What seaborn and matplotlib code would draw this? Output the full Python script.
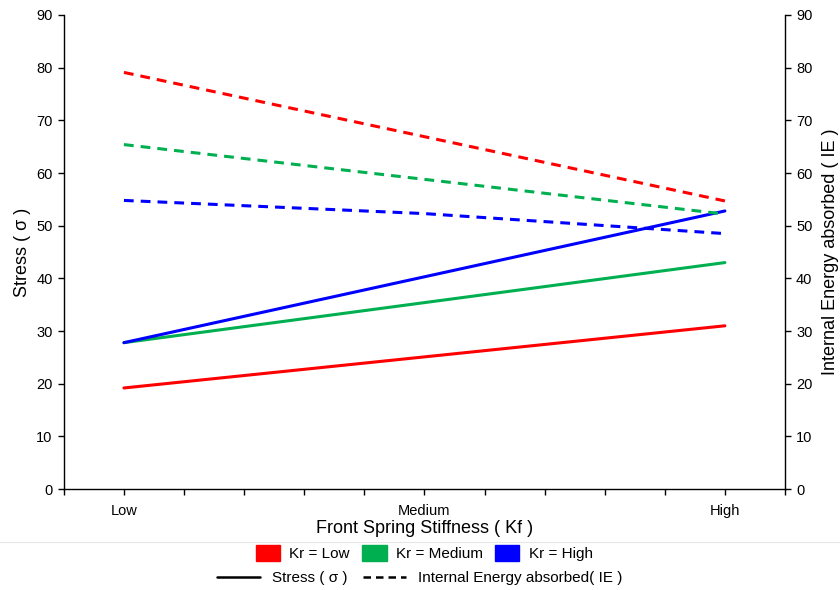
import matplotlib
matplotlib.use("Agg")
import matplotlib.pyplot as plt
import seaborn as sns
import pandas as pd
from matplotlib.patches import Patch
from matplotlib.lines import Line2D

# Data
kf_levels = ["Low", "Medium", "High"]
kr_levels = ["Kr = Low", "Kr = Medium", "Kr = High"]
stress_low = [19.2, 25.1, 31.0]
stress_med = [27.8, 35.4, 43.0]
stress_high = [27.8, 40.3, 52.8]
ie_low = [79.1, 66.9, 54.7]
ie_med = [65.4, 58.8, 52.2]
ie_high = [54.8, 52.3, 48.5]
colors = ["#FF0000", "#00B050", "#0000FF"]

xpos = list(range(len(kf_levels)))
rows = []
for kr, s, e in zip(kr_levels, [stress_low, stress_med, stress_high], [ie_low, ie_med, ie_high]):
    for x, sv, ev in zip(xpos, s, e):
        rows.append({"x": x, "Kr": kr, "Stress": sv, "IE": ev})
df = pd.DataFrame(rows)

sns.set_theme(style="white")
plt.rcParams['font.family'] = ['Liberation Sans', 'DejaVu Sans']
plt.rcParams['text.color'] = 'black'
plt.rcParams['axes.labelcolor'] = 'black'

fig = plt.figure(figsize=(8.4, 5.9), dpi=100)
ax = fig.add_axes([0.076, 0.171, 0.8585, 0.8036])
ax2 = ax.twinx()

sns.lineplot(data=df, x="x", y="Stress", hue="Kr", hue_order=kr_levels,
             palette=colors, ax=ax, linewidth=2.2, legend=False)
sns.lineplot(data=df, x="x", y="IE", hue="Kr", hue_order=kr_levels,
             palette=colors, ax=ax2, linewidth=2.2, legend=False)
for ln in ax2.get_lines():
    ln.set_linestyle((0, (3.2, 2.3)))

for a in (ax, ax2):
    a.set_ylim(0, 90)
    a.set_yticks(range(0, 91, 10))
    a.set_xlim(-0.2, 2.2)
    for s in a.spines.values():
        s.set_color("black")
        s.set_linewidth(1.0)
    a.spines["top"].set_visible(False)
    a.tick_params(axis="y", direction="out", length=4, width=1, labelsize=10.5, colors="black", pad=4)

ax.spines["right"].set_visible(False)
ax2.spines["left"].set_visible(False)
ax2.spines["bottom"].set_visible(False)
ax.yaxis.set_ticks_position("left")
ax2.yaxis.set_ticks_position("right")

ax.set_xticks(xpos)
ax.set_xticks([-0.2, 0.2, 0.4, 0.6, 0.8, 1.2, 1.4, 1.6, 1.8, 2.2], minor=True)
ax.tick_params(axis="x", which="both", direction="out", length=4, width=1, bottom=True, colors="black", pad=7)
ax.set_xticklabels(kf_levels, fontsize=10.5)

ax.set_xlabel("Front Spring Stiffness ( Kf )", fontsize=13, labelpad=1, color="black")
ax.set_ylabel("Stress ( σ )", fontsize=13, labelpad=4, color="black")
ax2.set_ylabel("Internal Energy absorbed ( IE )", fontsize=13, labelpad=7, color="black")
ax.grid(False)
ax2.grid(False)

# separator line
fig.add_artist(Line2D([0, 1], [1 - 542 / 590, 1 - 542 / 590], color="#E6E6E6", linewidth=0.8))

h1 = [Patch(facecolor=c, edgecolor=c) for c in colors]
fig.legend(h1, kr_levels, loc="center", bbox_to_anchor=(0.505, 1 - 553 / 590), ncol=3,
           frameon=False, fontsize=11, handlelength=1.6, handleheight=1.2,
           columnspacing=0.8, handletextpad=0.6, borderpad=0, labelcolor="black")
h2 = [Line2D([0], [0], color="black", lw=1.8),
      Line2D([0], [0], color="black", lw=1.8, linestyle=(0, (3, 2)))]
fig.legend(h2, ["Stress ( σ )", "Internal Energy absorbed( IE )"], loc="center",
           bbox_to_anchor=(0.5, 1 - 578 / 590), ncol=2, frameon=False, fontsize=11,
           handlelength=2.8, columnspacing=1.0, handletextpad=0.8, borderpad=0,
           labelcolor="black")

fig.savefig("out.png", dpi=100)
